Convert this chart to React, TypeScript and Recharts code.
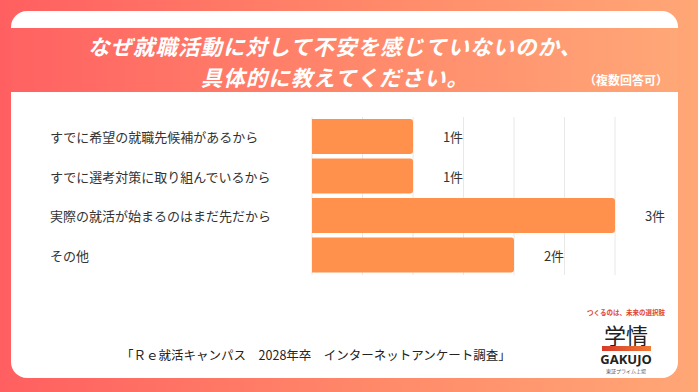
import React from 'react';
import { BarChart, Bar, XAxis, YAxis, CartesianGrid, LabelList } from 'recharts';

const categories = [
  'すでに希望の就職先候補があるから',
  'すでに選考対策に取り組んでいるから',
  '実際の就活が始まるのはまだ先だから',
  'その他',
];
const counts = [1, 1, 3, 2];
const xTicks = [0, 0.5, 1, 1.5, 2, 2.5, 3];

const titleLines = ['なぜ就職活動に対して不安を感じていないのか、', '具体的に教えてください。'];
const note = '（複数回答可）';
const source = '「Ｒｅ就活キャンパス　2028年卒　インターネットアンケート調査」';

const data = categories.map((name, i) => ({ name, value: counts[i] }));

const JP = '"Noto Sans CJK JP", "Noto Sans", sans-serif';

const CategoryTick = (props: any) => {
  const { y, payload } = props;
  return (
    <text x={50} y={y} textAnchor="start" dominantBaseline="central" fontSize={13} fill="#333" fontFamily={JP}>
      {payload.value}
    </text>
  );
};

const ValueLabel = (props: any) => {
  const { x, y, width, height, value } = props;
  return (
    <text
      x={x + width + 40}
      y={y + height / 2}
      textAnchor="middle"
      dominantBaseline="central"
      fontSize={13}
      fill="#333"
      fontFamily={JP}
    >
      {`${value}件`}
    </text>
  );
};

const logoText = (top: number, size: number, extra: React.CSSProperties, text: string) => (
  <div
    style={{
      position: 'absolute',
      left: 586,
      top,
      width: 80,
      textAlign: 'center',
      fontSize: size,
      lineHeight: 1,
      whiteSpace: 'nowrap',
      ...extra,
    }}
  >
    {text}
  </div>
);

export default function App() {
  return (
    <div
      style={{
        position: 'absolute',
        left: 0,
        top: 0,
        width: 698,
        height: 392,
        overflow: 'hidden',
        background: 'linear-gradient(90deg, #ff5f60 0%, #ff8a6a 55%, #ffa776 100%)',
        fontFamily: JP,
      }}
    >
      {/* white panel */}
      <div
        style={{
          position: 'absolute',
          left: 11,
          top: 11,
          width: 667,
          height: 367,
          background: '#fff',
          borderRadius: 16,
          overflow: 'hidden',
        }}
      >
        <div
          style={{
            position: 'absolute',
            left: 0,
            top: 17,
            width: 667,
            height: 64,
            background: 'linear-gradient(90deg, #ff6262 0%, #ff8a6c 55%, #ffa777 100%)',
          }}
        />
      </div>

      {/* title */}
      <div
        style={{
          position: 'absolute',
          left: 0,
          top: 30,
          width: 670,
          textAlign: 'center',
          color: '#fff',
          fontWeight: 700,
          fontStyle: 'italic',
          fontSize: 21.5,
          letterSpacing: 1,
          lineHeight: '31px',
        }}
      >
        <div>{titleLines[0]}</div>
        <div>{titleLines[1]}</div>
      </div>
      <div
        style={{
          position: 'absolute',
          left: 584,
          top: 72,
          color: '#fff',
          fontWeight: 700,
          fontSize: 12,
          lineHeight: '16px',
        }}
      >
        {note}
      </div>

      {/* chart */}
      <div style={{ position: 'absolute', left: 0, top: 0 }}>
        <BarChart
          width={698}
          height={392}
          data={data}
          layout="vertical"
          margin={{ top: 117, right: 83, bottom: 117, left: 0 }}
          barSize={35}
        >
          <CartesianGrid horizontal={false} stroke="#e8e8e8" />
          <XAxis type="number" domain={[0, 3]} ticks={xTicks} hide />
          <YAxis
            type="category"
            dataKey="name"
            width={312}
            axisLine={false}
            tickLine={false}
            tick={<CategoryTick />}
          />
          <Bar dataKey="value" fill="#ff914d" radius={[0, 3, 3, 0]} isAnimationActive={false}>
            <LabelList dataKey="value" content={<ValueLabel />} />
          </Bar>
        </BarChart>
      </div>

      {/* source */}
      <div
        style={{
          position: 'absolute',
          left: 0,
          top: 346,
          width: 632,
          textAlign: 'center',
          fontSize: 12.5,
          color: '#222',
          lineHeight: '18px',
        }}
      >
        {source}
      </div>

      {/* logo */}
      {logoText(309, 6.5, { color: '#e0452e', fontWeight: 700 }, 'つくるのは、未来の選択肢')}
      {logoText(323, 22, { color: '#222' }, '学情')}
      <div
        style={{
          position: 'absolute',
          left: 602,
          top: 346,
          width: 49,
          height: 5,
          background: 'linear-gradient(90deg, #d83a2a, #f07a35)',
        }}
      />
      {logoText(353, 13, { color: '#222', fontWeight: 700, fontFamily: '"Noto Sans", sans-serif' }, 'GAKUJO')}
      {logoText(368, 5, { color: '#555' }, '東証プライム上場')}
    </div>
  );
}
